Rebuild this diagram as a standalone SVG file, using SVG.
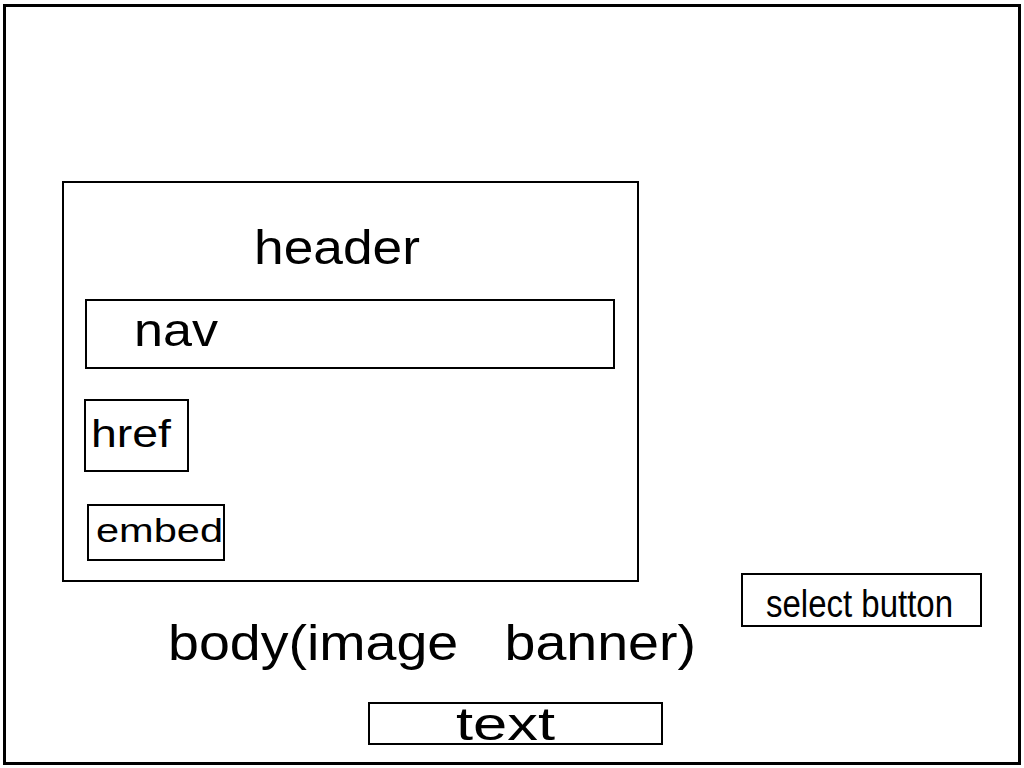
<svg xmlns="http://www.w3.org/2000/svg" width="1024" height="768" viewBox="0 0 1024 768">
<style>
.box{fill:#fff;stroke:#000;stroke-width:2}
.t{font-family:"Liberation Sans",Arial,sans-serif;fill:#000}
</style>
<rect width="1024" height="768" fill="#fff"/>
<g id="page"><rect x="4.5" y="5.5" width="1015" height="758" fill="#fff" stroke="#000" stroke-width="3"/></g>
<g id="header"><rect class="box" x="63" y="182" width="575" height="399"/>
<text class="t" x="254" y="264" font-size="48" textLength="166" lengthAdjust="spacingAndGlyphs">header</text></g>
<g id="nav"><rect class="box" x="86" y="300" width="528" height="68" stroke-width="1.5"/>
<text class="t" x="134" y="346" font-size="46" textLength="84" lengthAdjust="spacingAndGlyphs">nav</text></g>
<g id="href"><rect class="box" x="85" y="400" width="103" height="71" stroke-width="1.5"/>
<text class="t" x="91" y="447" font-size="38" textLength="80" lengthAdjust="spacingAndGlyphs">href</text></g>
<g id="embed"><rect class="box" x="88" y="505" width="136" height="55" stroke-width="1.5"/>
<text class="t" x="96" y="542" font-size="34" textLength="127" lengthAdjust="spacingAndGlyphs">embed</text></g>
<g id="body"><text class="t" x="168" y="660" font-size="50" textLength="528" lengthAdjust="spacingAndGlyphs" style="white-space:pre" xml:space="preserve">body(image   banner)</text></g>
<g id="select-button"><rect class="box" x="742" y="574" width="239" height="52" stroke-width="1.5"/>
<text class="t" x="766" y="617" font-size="38" textLength="187" lengthAdjust="spacingAndGlyphs">select button</text></g>
<g id="text"><rect class="box" x="369" y="703" width="293" height="41" stroke-width="1.5"/>
<text class="t" x="456" y="740" font-size="46" textLength="99" lengthAdjust="spacingAndGlyphs">text</text></g>
<g id="connectors"></g>
</svg>
